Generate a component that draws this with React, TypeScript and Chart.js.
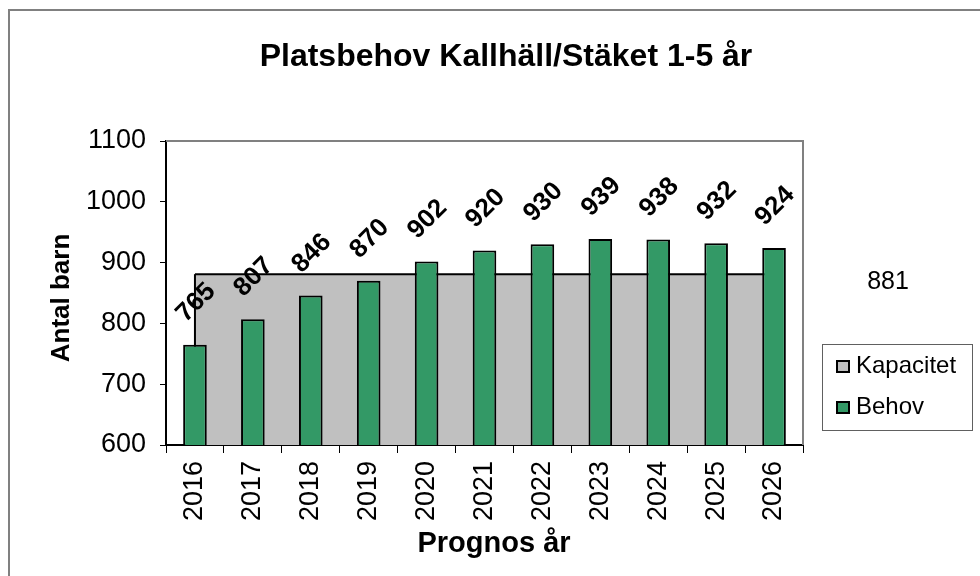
import React, { useEffect, useRef } from "react";
import { Chart, registerables } from "chart.js";

Chart.register(...registerables);

const FONT = '"Liberation Sans", Arial, Helvetica, sans-serif';

const TITLE = "Platsbehov Kallhäll/Stäket 1-5 år";
const Y_TITLE = "Antal barn";
const X_TITLE = "Prognos år";
const KAP_LABEL = "Kapacitet";
const BEHOV_LABEL = "Behov";

const years = ["2016", "2017", "2018", "2019", "2020", "2021", "2022", "2023", "2024", "2025", "2026"];
const behov = [765, 807, 846, 870, 902, 920, 930, 939, 938, 932, 924];
const kapacitet = [881, 881, 881, 881, 881, 881, 881, 881, 881, 881, 881];
const Y_MIN = 600;
const Y_MAX = 1100;
const Y_STEP = 100;

const GREEN = "#339966";
const GREY = "#C0C0C0";

const decorPlugin = {
  id: "decor",
  beforeDraw(chart: any) {
    const ctx = chart.ctx;
    ctx.save();
    ctx.fillStyle = "#ffffff";
    ctx.fillRect(0, 0, chart.width, chart.height);
    ctx.fillStyle = "#808080";
    ctx.fillRect(8, 9, chart.width - 8, 2);
    ctx.fillRect(8, 9, 2, chart.height - 9);
    ctx.restore();
  },
  beforeDatasetsDraw(chart: any) {
    const ctx = chart.ctx;
    const { left, top, right, bottom } = chart.chartArea;
    ctx.save();
    ctx.strokeStyle = "#808080";
    ctx.lineWidth = 2;
    ctx.beginPath();
    ctx.moveTo(left, top);
    ctx.lineTo(right, top);
    ctx.lineTo(right, bottom);
    ctx.stroke();
    ctx.restore();
  },
  afterDatasetDraw(chart: any, args: any) {
    // vertical edges of the Kapacitet area
    if (args.index !== 0) return;
    const meta = chart.getDatasetMeta(0);
    const pts = meta.data;
    if (!pts.length) return;
    const ctx = chart.ctx;
    const bottom = chart.chartArea.bottom;
    ctx.save();
    ctx.strokeStyle = "#000";
    ctx.lineWidth = 2;
    [pts[0], pts[pts.length - 1]].forEach((p: any) => {
      ctx.beginPath();
      ctx.moveTo(p.x, p.y);
      ctx.lineTo(p.x, bottom);
      ctx.stroke();
    });
    ctx.restore();
  },
  afterDraw(chart: any) {
    const ctx = chart.ctx;
    const area = chart.chartArea;
    const yScale = chart.scales.y;
    ctx.save();
    ctx.fillStyle = "#000";

    // Title
    ctx.font = `bold 32px ${FONT}`;
    ctx.textAlign = "center";
    ctx.textBaseline = "middle";
    ctx.fillText(TITLE, 506, 57);

    // Axis titles
    ctx.font = `bold 29px ${FONT}`;
    ctx.fillText(X_TITLE, 494, 544);
    ctx.font = `bold 26px ${FONT}`;
    ctx.save();
    ctx.translate(62, 298);
    ctx.rotate(-Math.PI / 2);
    ctx.fillText(Y_TITLE, 0, 0);
    ctx.restore();

    // Data labels for Behov
    const barMeta = chart.getDatasetMeta(1);
    ctx.font = `bold 26px ${FONT}`;
    barMeta.data.forEach((bar: any, i: number) => {
      ctx.save();
      ctx.translate(bar.x + 1, bar.y - 42);
      ctx.rotate(-Math.PI / 4);
      ctx.fillText(String(behov[i]), 0, 0);
      ctx.restore();
    });

    // Kapacitet label
    ctx.font = `25px ${FONT}`;
    const kv = kapacitet[kapacitet.length - 1];
    ctx.fillText(String(kv), area.right + 85, yScale.getPixelForValue(kv) + 8);

    // Legend
    const lx = area.right + 19;
    const ly = area.top + 203;
    ctx.strokeStyle = "#606060";
    ctx.lineWidth = 1;
    ctx.strokeRect(lx + 0.5, ly + 0.5, 150, 86);
    const items = [
      { label: KAP_LABEL, color: GREY },
      { label: BEHOV_LABEL, color: GREEN },
    ];
    ctx.textAlign = "left";
    ctx.textBaseline = "alphabetic";
    ctx.font = `24px ${FONT}`;
    items.forEach((it, i) => {
      const sy = ly + 17 + i * 41;
      ctx.fillStyle = it.color;
      ctx.fillRect(lx + 15, sy, 12, 11);
      ctx.strokeStyle = "#000";
      ctx.lineWidth = 2;
      ctx.strokeRect(lx + 15, sy, 12, 11);
      ctx.fillStyle = "#000";
      ctx.fillText(it.label, lx + 34, sy + 12);
    });
    ctx.restore();
  },
};

export default function App() {
  const ref = useRef<HTMLCanvasElement>(null);

  useEffect(() => {
    if (!ref.current) return;
    Chart.defaults.font.family = FONT;
    const chart = new Chart(ref.current, {
      type: "bar",
      data: {
        labels: years,
        datasets: [
          {
            type: "line",
            label: KAP_LABEL,
            data: kapacitet,
            borderColor: "#000",
            borderWidth: 2,
            backgroundColor: GREY,
            fill: "start",
            pointRadius: 0,
            tension: 0,
            order: 2,
          } as any,
          {
            type: "bar",
            label: BEHOV_LABEL,
            data: behov,
            backgroundColor: GREEN,
            borderColor: "#000",
            borderWidth: 2,
            borderSkipped: false,
            categoryPercentage: 0.8,
            barPercentage: 0.51,
            order: 1,
          } as any,
        ],
      },
      options: {
        responsive: false,
        animation: false,
        events: [],
        layout: { padding: { left: 0, top: 141, right: 177, bottom: 0 } },
        plugins: {
          legend: { display: false },
          title: { display: false },
          tooltip: { enabled: false },
        },
        scales: {
          x: {
            offset: true,
            afterFit: (s: any) => {
              s.height = 131;
            },
            grid: {
              offset: true,
              drawOnChartArea: false,
              drawTicks: true,
              tickLength: 8,
              color: "#000",
              lineWidth: 1,
            },
            border: { display: true, color: "#000", width: 2 },
            ticks: {
              autoSkip: false,
              minRotation: 90,
              maxRotation: 90,
              padding: 8,
              color: "#000",
              font: { size: 27, family: FONT },
            },
          },
          y: {
            min: Y_MIN,
            max: Y_MAX,
            afterFit: (s: any) => {
              s.width = 166;
            },
            grid: {
              drawOnChartArea: false,
              drawTicks: true,
              tickLength: 6,
              color: "#000",
              lineWidth: 1,
            },
            border: { display: true, color: "#000", width: 2 },
            ticks: {
              stepSize: Y_STEP,
              padding: 14,
              color: "#000",
              font: { size: 27, family: FONT },
              callback: (v: any) => String(v),
            },
          },
        },
      },
      plugins: [decorPlugin],
    });
    return () => chart.destroy();
  }, []);

  return (
    <div style={{ position: "absolute", left: 0, top: 0, width: 980, height: 576, background: "#fff" }}>
      <canvas ref={ref} width={980} height={576} style={{ display: "block", width: 980, height: 576 }} />
    </div>
  );
}
